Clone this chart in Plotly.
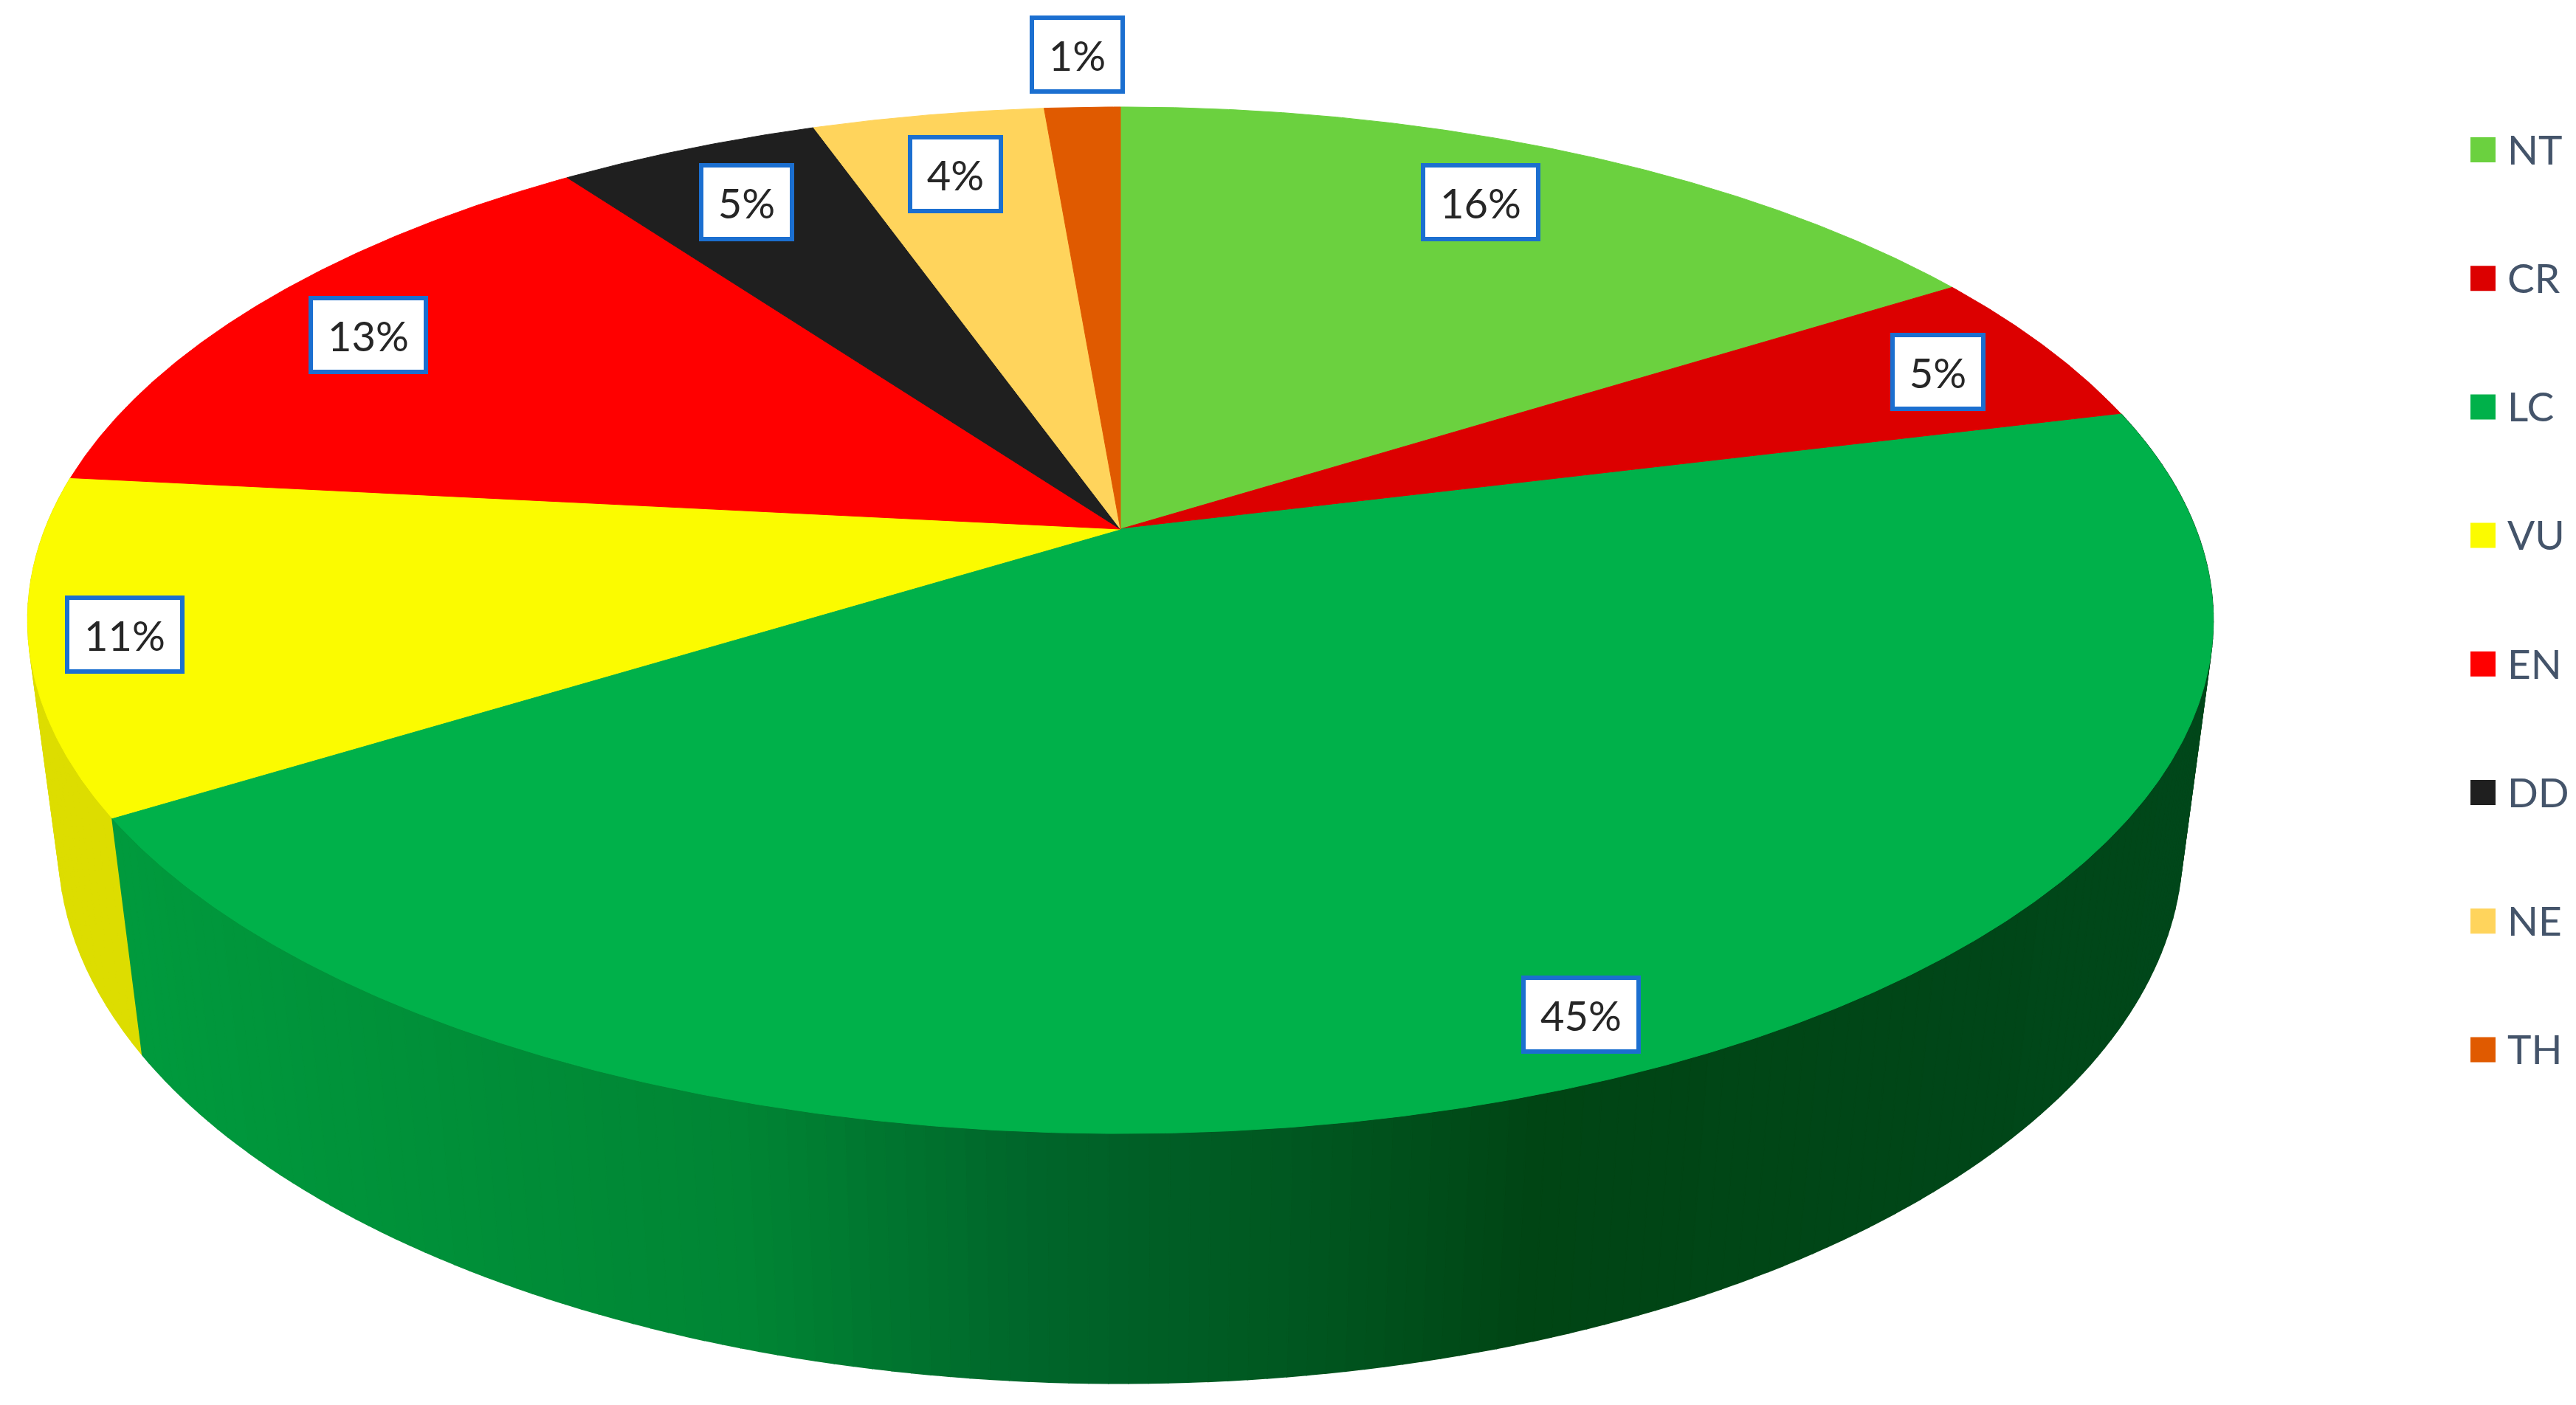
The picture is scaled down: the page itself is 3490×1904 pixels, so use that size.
import numpy as np
import plotly.graph_objects as go

# ---- data ----
categories = ["NT", "CR", "LC", "VU", "EN", "DD", "NE", "TH"]
shares = [16.05, 5.05, 45.0, 10.5, 13.3, 4.6, 4.07, 1.33]   # slice sizes measured from the wedge angles
labels = ["16%", "5%", "45%", "11%", "13%", "5%", "4%", "1%"]
colors = ["#6BD13F", "#DC0000", "#00B14A", "#FBFB00", "#FF0000", "#1F1F1F", "#FFD45C", "#E05A00"]
side_colors = {"VU": "#DDDD00"}

# ---- style / projection ----
W, H = 3490, 1904
CX, CY = 1518.0, 717.0      # pie apex on the page
KX, KY, PERSP = 1457.0, 673.6, 0.1776
DEPTH_PERSP, DEPTH_DROP = 0.028, 311.0   # lower rim: extra perspective and drop
LABEL_R = [0.835, 0.872, 0.9086, 0.9156, 0.861, 0.843, 0.836, 1.151]
LABEL_DA = [-1.9, 0.5, -0.8, 0.0, -0.8, -0.1, 0.0, 0.0]
GRAD_X = [160, 1000, 1400, 1800, 2078, 3000]
GRAD_RGB = [(0, 154, 61), (0, 133, 52), (0, 101, 42), (0, 85, 31), (0, 69, 20), (0, 71, 26)]
TEXT_FONT = "Lato, Carlito, Calibri, sans-serif"


def project(theta_deg, r=1.0, lower=False):
    t = np.radians(theta_deg)
    X, Y = r * np.sin(t), r * np.cos(t)
    g, drop = (DEPTH_PERSP, DEPTH_DROP) if lower else (0.0, 0.0)
    den = 1 + PERSP * Y + g
    return CX + KX * X / den, CY - (KY * Y - drop) / den


def grad_color(x):
    rgb = [np.interp(x, GRAD_X, [c[i] for c in GRAD_RGB]) for i in range(3)]
    return "rgb(%d,%d,%d)" % tuple(round(v) for v in rgb)


total = sum(shares)
edges = np.concatenate([[0], np.cumsum(shares)]) / total * 360.0
fig = go.Figure()


def add_side(a0, a1, color):
    tx, ty = project(np.array([a0, a1]))
    bx, by = project(np.array([a0, a1]), lower=True)
    xs = [tx[0], tx[1], bx[1], bx[0], tx[0]]
    ys = [ty[0], ty[1], by[1], by[0], ty[0]]
    fig.add_trace(go.Scatter(x=xs, y=ys, mode="lines", fill="toself", fillcolor=color,
                             line=dict(color=color, width=1.5), hoverinfo="skip", showlegend=False))


# rim: yellow part first, then the green part in shaded strips
vu = categories.index("VU")
lc = categories.index("LC")
vu_steps = np.linspace(edges[vu], edges[vu + 1], 30)
for a0, a1 in zip(vu_steps[:-1], vu_steps[1:]):
    add_side(a0, a1, side_colors["VU"])
lc_steps = np.linspace(edges[lc], edges[lc + 1], 181)
for a0, a1 in zip(lc_steps[:-1], lc_steps[1:]):
    mx, _ = project((a0 + a1) / 2)
    add_side(a0, a1, grad_color(mx))

# top face
for i, name in enumerate(categories):
    th = np.linspace(edges[i], edges[i + 1], max(int(edges[i + 1] - edges[i]) * 3, 12))
    ax, ay = project(th)
    fig.add_trace(go.Scatter(x=np.r_[CX, ax, CX], y=np.r_[CY, ay, CY], mode="lines", fill="toself",
                             fillcolor=colors[i], line=dict(color=colors[i], width=1),
                             name=name, hovertemplate=name + " " + labels[i] + "<extra></extra>",
                             showlegend=False))

# data labels
mid = (edges[:-1] + edges[1:]) / 2
for i, lab in enumerate(labels):
    lx, ly = project(mid[i] + LABEL_DA[i], LABEL_R[i])
    wide = len(lab) > 2
    fig.add_annotation(x=float(lx), y=float(ly), text=lab, showarrow=False,
                       font=dict(family=TEXT_FONT, size=56, color="#262626"),
                       width=150 if wide else 117, height=94, align="center", valign="middle",
                       bgcolor="#FFFFFF", bordercolor="#1B6FD0", borderwidth=6, borderpad=0)

# legend column
for i, name in enumerate(categories):
    fig.add_trace(go.Scatter(x=[3364], y=[203 + 174.2 * i], mode="markers",
                             marker=dict(symbol="square", size=34, color=colors[i]),
                             hoverinfo="skip", showlegend=False))
    fig.add_trace(go.Scatter(x=[3397], y=[209 + 174.2 * i], mode="text", text=[name],
                             textposition="middle right",
                             textfont=dict(family=TEXT_FONT, size=55, color="#44546A"),
                             hoverinfo="skip", showlegend=False))

fig.update_xaxes(range=[0, W], visible=False, fixedrange=True)
fig.update_yaxes(range=[H, 0], visible=False, fixedrange=True)
fig.update_layout(width=W, height=H, margin=dict(l=0, r=0, t=0, b=0),
                  paper_bgcolor="#FFFFFF", plot_bgcolor="#FFFFFF", showlegend=False)
fig.write_html("out.html", config=dict(displayModeBar=False),
               post_script="document.body.style.margin='0';document.body.style.overflow='hidden';")
